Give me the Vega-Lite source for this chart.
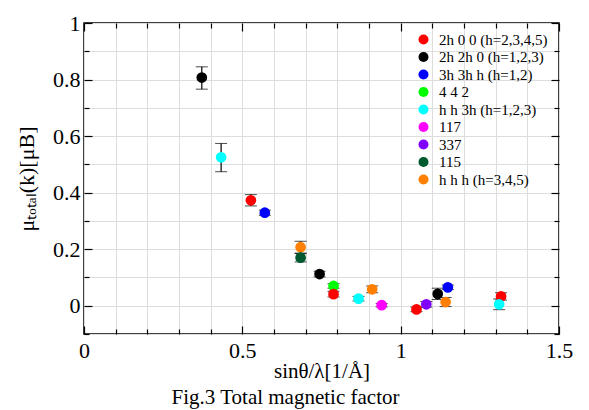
{
  "$schema": "https://vega.github.io/schema/vega-lite/v6.json",
  "autosize": {"type": "none"},
  "width": 475,
  "height": 311,
  "padding": {"left": 84, "top": 23, "right": 30, "bottom": 76},
  "background": "white",
  "title": {"text": "Fig.3 Total magnetic factor", "orient": "bottom", "font": "Liberation Serif", "fontSize": 21, "fontWeight": "normal", "color": "black", "offset": 6, "anchor": "middle", "dx": -36},
  "config": {
    "view": {"stroke": "black", "strokeWidth": 1.5},
    "font": "Liberation Serif"
  },
  "data": {"values": [
    {"s": 0.372, "m": 0.807, "lo": 0.766, "hi": 0.845, "f": "2h 2h 0 (h=1,2,3)"},
    {"s": 0.433, "m": 0.525, "lo": 0.474, "hi": 0.574, "f": "h h 3h (h=1,2,3)"},
    {"s": 0.527, "m": 0.373, "lo": 0.353, "hi": 0.393, "f": "2h 0 0 (h=2,3,4,5)"},
    {"s": 0.571, "m": 0.329, "lo": 0.320, "hi": 0.338, "f": "3h 3h h (h=1,2)"},
    {"s": 0.684, "m": 0.207, "lo": 0.186, "hi": 0.228, "f": "h h h (h=3,4,5)"},
    {"s": 0.684, "m": 0.170, "lo": 0.155, "hi": 0.185, "f": "115"},
    {"s": 0.744, "m": 0.112, "lo": 0.102, "hi": 0.122, "f": "2h 2h 0 (h=1,2,3)"},
    {"s": 0.788, "m": 0.070, "lo": 0.062, "hi": 0.078, "f": "4 4 2"},
    {"s": 0.788, "m": 0.041, "lo": 0.031, "hi": 0.051, "f": "2h 0 0 (h=2,3,4,5)"},
    {"s": 0.867, "m": 0.025, "lo": 0.017, "hi": 0.033, "f": "h h 3h (h=1,2,3)"},
    {"s": 0.910, "m": 0.058, "lo": 0.046, "hi": 0.070, "f": "h h h (h=3,4,5)"},
    {"s": 0.940, "m": 0.002, "lo": -0.004, "hi": 0.008, "f": "117"},
    {"s": 1.050, "m": -0.013, "lo": -0.021, "hi": -0.005, "f": "2h 0 0 (h=2,3,4,5)"},
    {"s": 1.081, "m": 0.005, "lo": -0.005, "hi": 0.015, "f": "337"},
    {"s": 1.117, "m": 0.042, "lo": 0.022, "hi": 0.062, "f": "2h 2h 0 (h=1,2,3)"},
    {"s": 1.149, "m": 0.065, "lo": 0.057, "hi": 0.073, "f": "3h 3h h (h=1,2)"},
    {"s": 1.142, "m": 0.013, "lo": -0.003, "hi": 0.029, "f": "h h h (h=3,4,5)"},
    {"s": 1.317, "m": 0.033, "lo": 0.020, "hi": 0.046, "f": "2h 0 0 (h=2,3,4,5)"},
    {"s": 1.311, "m": 0.005, "lo": -0.014, "hi": 0.024, "f": "h h 3h (h=1,2,3)"}
  ]},
  "layer": [
    {
      "mark": {"type": "errorbar", "ticks": {"size": 12, "color": "black", "strokeWidth": 1.2}, "rule": {"color": "black", "strokeWidth": 1.2}},
      "encoding": {
        "x": {"field": "s", "type": "quantitative", "scale": {"domain": [0, 1.5], "nice": false},
          "axis": {"orient": "top", "values": [0,0.1,0.2,0.3,0.4,0.5,0.6,0.7,0.8,0.9,1,1.1,1.2,1.3,1.4,1.5], "labels": false, "title": null, "domain": false, "tickColor": "black", "tickWidth": 1.2,
            "tickSize": {"condition": {"test": "abs(datum.value*2 - round(datum.value*2)) < 0.001", "value": -8}, "value": -5}}},
        "y": {"field": "lo", "type": "quantitative", "scale": {"domain": [-0.1, 1], "nice": false, "zero": false},
          "axis": {"orient": "right", "values": [-0.1,0,0.1,0.2,0.3,0.4,0.5,0.6,0.7,0.8,0.9,1], "labels": false, "title": null, "domain": false, "tickColor": "black", "tickWidth": 1.2,
            "tickSize": {"condition": {"test": "abs(datum.value*5 - round(datum.value*5)) < 0.001", "value": -8}, "value": -5}}},
        "y2": {"field": "hi"}
      }
    },
    {
      "mark": {"type": "circle", "opacity": 1, "size": 115},
      "encoding": {
        "x": {"field": "s", "type": "quantitative", "scale": {"domain": [0, 1.5], "nice": false},
          "axis": {"orient": "bottom", "values": [0,0.1,0.2,0.3,0.4,0.5,0.6,0.7,0.8,0.9,1,1.1,1.2,1.3,1.4,1.5], "domain": false, "tickColor": "black", "tickWidth": 1.2,
            "tickSize": {"condition": {"test": "abs(datum.value*2 - round(datum.value*2)) < 0.001", "value": -8}, "value": -5},
            "format": "~g",
            "labelExpr": "abs(datum.value*2 - round(datum.value*2)) < 0.001 ? datum.label : ''",
            "labelFont": "Liberation Serif", "labelFontSize": 22, "labelColor": "black", "labelPadding": 14, "labelFlush": false, "labelOverlap": false,
            "title": "sinθ/λ[1/Å]", "titleFont": "Liberation Serif", "titleFontSize": 21, "titleFontWeight": "normal", "titleColor": "black", "titlePadding": -4}},
        "y": {"field": "m", "type": "quantitative", "scale": {"domain": [-0.1, 1], "nice": false, "zero": false},
          "axis": {"orient": "left", "values": [-0.1,0,0.1,0.2,0.3,0.4,0.5,0.6,0.7,0.8,0.9,1], "domain": false, "tickColor": "black", "tickWidth": 1.2,
            "tickSize": {"condition": {"test": "abs(datum.value*5 - round(datum.value*5)) < 0.001", "value": -8}, "value": -5},
            "format": "~g",
            "labelExpr": "abs(datum.value*5 - round(datum.value*5)) < 0.001 && datum.value > -0.05 ? datum.label : ''",
            "labelFont": "Liberation Serif", "labelFontSize": 22, "labelColor": "black", "labelPadding": 12, "labelOverlap": false, "labelFlush": false,
            "title": "μₜₒₜₐₗ(k)[μB]", "titleFont": "Liberation Serif", "titleFontSize": 22, "titleFontWeight": "normal", "titleColor": "black", "titlePadding": 14}},
        "color": {"field": "f", "type": "nominal",
          "scale": {"domain": ["2h 0 0 (h=2,3,4,5)", "2h 2h 0 (h=1,2,3)", "3h 3h h (h=1,2)", "4 4 2", "h h 3h (h=1,2,3)", "117", "337", "115", "h h h (h=3,4,5)"],
                    "range": ["#ff0000", "#000000", "#0000ff", "#00ff00", "#00ffff", "#ff00ff", "#8000ff", "#005a30", "#ff8000"]},
          "legend": {"orient": "none", "legendX": 332, "legendY": 9, "title": null, "symbolType": "circle", "symbolSize": 100, "symbolStrokeWidth": 0, "symbolOpacity": 1,
            "labelFont": "Liberation Serif", "labelFontSize": 15, "labelColor": "black", "rowPadding": 1.5, "labelOffset": 8, "labelLimit": 200}}
      }
    }
  ],
  "resolve": {"axis": {"x": "independent", "y": "independent"}}
}
